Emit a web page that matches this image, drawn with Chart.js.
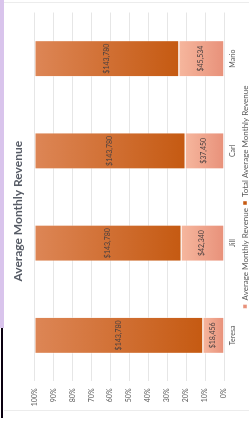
<!DOCTYPE html>
<html>
<head>
<meta charset="utf-8">
<script src="https://cdn.jsdelivr.net/npm/chart.js@4"></script>
<style>
  html, body { margin: 0; padding: 0; background: #fff; overflow: hidden; width: 249px; height: 426px; }
  #lav { position: absolute; left: 0; top: 0; width: 4px; height: 328px; background: #d9c4ec; }
  #blk { position: absolute; left: 1px; top: 328px; width: 2px; height: 90px; background: #0a0010; }
  #wrap { position: absolute; left: 4px; top: 2px; width: 256px; height: 407px;
          border-top: 1px solid #ececec; border-bottom: 1px solid #ececec; }
  #rot { position: absolute; left: 0; top: 0; width: 407px; height: 256px;
         transform-origin: 0 0; transform: translateY(407px) rotate(-90deg); }
</style>
</head>
<body>
<div id="lav"></div>
<div id="blk"></div>
<div id="wrap"><div id="rot"><canvas id="chart" width="407" height="256"></canvas></div></div>
<script>
// chart values
var categories = ['Teresa', 'Jill', 'Carl', 'Mario'];
var avgRevenue = [18456, 42340, 37450, 45534];
var totalRevenue = [143780, 143780, 143780, 143780];
var seriesNames = ['Average Monthly Revenue', 'Total Average Monthly Revenue'];

// 100% stacked -> share of each column
var avgShare = avgRevenue.map(function (v, i) { return v / (v + totalRevenue[i]) * 100; });
var totalShare = totalRevenue.map(function (v, i) { return v / (v + avgRevenue[i]) * 100; });
var rawValues = [avgRevenue, totalRevenue];

function money(v) { return '$' + v.toLocaleString('en-US'); }

// gradient per bar, lighter at the top end, darker at the bottom end
function barFill(light, dark, flat) {
  return function (ctx) {
    var chart = ctx.chart;
    if (!chart.chartArea || ctx.type !== 'data') return flat;
    var y = chart.scales.y;
    var i = ctx.dataIndex;
    var lo = ctx.datasetIndex === 0 ? 0 : avgShare[i];
    var hi = ctx.datasetIndex === 0 ? avgShare[i] : 100;
    var g = chart.ctx.createLinearGradient(0, y.getPixelForValue(hi), 0, y.getPixelForValue(lo));
    g.addColorStop(0, light);
    g.addColorStop(1, dark);
    return g;
  };
}

var labelPlugin = {
  id: 'barLabels',
  afterDatasetsDraw: function (chart) {
    var c = chart.ctx;
    c.save();
    c.font = '7px Lato';
    c.fillStyle = '#4a4040';
    c.textAlign = 'center';
    c.textBaseline = 'middle';
    chart.data.datasets.forEach(function (ds, d) {
      chart.getDatasetMeta(d).data.forEach(function (bar, i) {
        var p = bar.getCenterPoint();
        c.fillText(money(rawValues[d][i]), p.x, p.y);
      });
    });
    c.restore();
  }
};

new Chart(document.getElementById('chart'), {
  type: 'bar',
  data: {
    labels: categories,
    datasets: [{
      label: seriesNames[0],
      data: avgShare,
      backgroundColor: barFill('#f6b79e', '#e8917a', '#f0a58a'),
      borderColor: 'rgba(255,255,255,0.45)',
      borderWidth: 1
    }, {
      label: seriesNames[1],
      data: totalShare,
      backgroundColor: barFill('#dd8656', '#c55a12', '#d46d2c'),
      borderColor: 'rgba(255,255,255,0.45)',
      borderWidth: 1
    }]
  },
  options: {
    responsive: false,
    animation: false,
    layout: { padding: { left: 0, right: 9.5, top: 0, bottom: 1 } },
    plugins: {
      title: {
        display: true,
        text: 'Average Monthly Revenue',
        color: '#575c66',
        font: { family: 'Lato', size: 12, weight: 'bold' },
        padding: { top: 7, bottom: 9 }
      },
      legend: {
        position: 'bottom',
        fullSize: false,
        labels: {
          color: '#595959',
          font: { family: 'Lato', size: 8 },
          boxWidth: 4,
          boxHeight: 4,
          padding: 3
        }
      },
      tooltip: { enabled: false }
    },
    datasets: { bar: { categoryPercentage: 1, barPercentage: 0.4 } },
    scales: {
      x: {
        stacked: true,
        grid: { display: false, drawTicks: false },
        border: { display: false },
        afterFit: function (s) { s.height = 14; },
        ticks: { color: '#595959', font: { family: 'Lato', size: 7 }, padding: 5, maxRotation: 0 }
      },
      y: {
        stacked: true,
        min: 0,
        max: 100,
        grid: { color: '#e6e6e6', drawTicks: false },
        border: { display: false },
        afterFit: function (s) { s.width = 28.5; },
        ticks: {
          stepSize: 10,
          color: '#595959',
          font: { family: 'Lato', size: 7 },
          padding: 7,
          callback: function (v) { return v + '%'; }
        }
      }
    }
  },
  plugins: [labelPlugin]
});
</script>
</body>
</html>
